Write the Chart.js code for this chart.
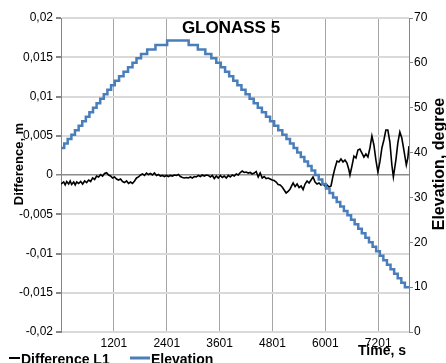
<!DOCTYPE html>
<html><head><meta charset="utf-8">
<script src="https://cdn.jsdelivr.net/npm/chart.js@4.4.1/dist/chart.umd.min.js"></script>
<style>html,body{margin:0;padding:0;background:#fff;}canvas{display:block;}</style>
</head><body>
<canvas id="c" width="446" height="363"></canvas>
<script>
const chartTitle = 'GLONASS 5';
const seriesNames = ['Difference L1', 'Elevation'];
const xAxisTitle = 'Time, s';
const yAxisTitle = 'Difference, m';
const y2AxisTitle = 'Elevation, degree';
const xTickValues = [1201, 2401, 3601, 4801, 6001, 7201];

const diffTimes = [1,62,96,130,175,209,243,289,323,357,402,447,492,538,583,628,674,719,764,809,855,900,945,990,1036,1081,1126,1172,1217,1262,1307,1353,1398,1443,1489,1534,1579,1624,1670,1715,1760,1806,1851,1896,1941,1987,2032,2077,2122,2168,2213,2258,2304,2349,2394,2439,2485,2530,2575,2621,2666,
2711,2756,2802,2847,2892,2938,2983,3028,3073,3119,3164,3209,3254,3300,3345,3390,3436,3481,3526,3571,3617,3662,3707,3753,3798,3843,3888,3934,3979,4024,4070,4115,4160,4205,4251,4296,4341,4387,4432,4477,4522,4568,4613,4658,4704,4749,4794,4839,4885,4930,4975,5021,5066,5111,5156,5202,5247,
5270,5315,5360,5405,5451,5496,5541,5586,5632,5677,5722,5768,5813,5858,5903,5949,5994,6039,6085,6130,6175,6220,6266,6311,6356,6402,6447,6492,6537,6560,6605,6650,6696,6741,6786,6832,6877,6922,6968,7013,7058,7103,7149,7194,7239,7285,7330,7375,7420,7466,7511,7545,7602,7647,7692,7737,7783,7839,7873,7900];
const diffValues = [-0.00115,-0.00089,-0.00127,-0.00083,-0.00115,-0.00076,-0.00121,-0.00089,-0.00127,-0.00089,-0.00108,-0.00083,-0.00115,-0.00076,-0.00096,-0.00064,-0.00083,-0.00038,-0.00057,-0.00013,-0.00025,0.00006,-0.00013,0.00019,0.00029,0,-0.00013,-0.00038,-0.00025,-0.00051,-0.00064,-0.00051,-0.00083,-0.00096,-0.00076,-0.00108,-0.00089,-0.00108,-0.00076,-0.00038,-0.00025,0,0.00013,-0.00006,0.00025,0.00006,0.00019,0,0.00025,-0.00006,0.00006,-0.00013,-0.00006,-0.00019,-0.00006,-0.00019,-0.00006,-0.00013,0,-0.00006,0.00006,
-0.00019,-0.00032,-0.00038,-0.00032,-0.00038,-0.00025,-0.00038,-0.00019,-0.00025,-0.00006,-0.00019,0,-0.00013,0,-0.00006,-0.00025,-0.00006,-0.00045,-0.00013,-0.00038,-0.00006,-0.00032,-0.00013,-0.00038,-0.00006,-0.00025,0,-0.00013,0.00013,0,0.00032,0.00051,0.00032,0.00038,0.00025,0.00032,0.00013,0.00025,0.00045,-0.00025,0.00025,-0.00038,-0.00019,-0.00045,-0.00038,-0.00051,-0.00064,-0.0007,-0.00089,-0.00121,-0.00127,-0.00153,-0.00191,-0.00229,-0.0021,-0.00178,-0.00127,
-0.00102,-0.00147,-0.00115,-0.00159,-0.0014,-0.00185,-0.00115,-0.00076,-0.00102,-0.00064,-0.00025,-0.00089,-0.00115,-0.00102,-0.00127,-0.00115,-0.0014,-0.00127,-0.00153,-0.0014,-0.00013,0.00089,0.00178,0.00166,0.00204,0.00166,0.00191,0.00153,0.00064,0,0.00115,0.00242,0.00217,0.00319,0.00331,0.0028,0.00229,0.00268,0.00229,0.00344,0.00497,0.00382,0.00191,0.00038,0.00166,0.00344,0.00446,0.00573,0.00573,0.0042,0.00127,-0.00025,0.0019,0.00408,0.00548,0.00471,0.00319,0.00127,0.00216,0.00369];

const elevTimes = [1,74,153,237,318,402,483,565,646,728,809,891,972,1054,1138,1221,1319,1421,1523,1624,1715,1817,1957,2145,2410,
2899,3107,3277,3413,3526,3628,3725,3818,3911,4004,4097,4190,4282,4375,4468,4561,4654,4747,4839,4932,5025,5118,5199,5281,5362,5444,5525,5607,5688,5770,5851,5933,6014,6096,6177,6259,6340,6422,6503,6585,6666,6748,6829,6911,6992,7074,7155,7237,7318,7400,7481,7563,7644,7726,7807,7900];
const elevValues = [41,42,43,44,45,46,47,48,49,50,51,52,53,54,55,56,57,58,59,60,61,62,63,64,65,
64,63,62,61,60,59,58,57,56,55,54,53,52,51,50,49,48,47,46,45,44,43,42,41,40,39,38,37,36,35,34,33,32,31,30,29,28,27,26,25,24,23,22,21,20,19,18,17,16,15,14,13,12,11,10,10];

const FONT = "'Liberation Sans', Arial, sans-serif";
Chart.defaults.font.family = FONT;
Chart.defaults.color = '#000';

const textPlugin = {
  id: 'texts',
  afterDraw(chart) {
    const ctx = chart.ctx;
    ctx.save();
    ctx.fillStyle = '#000';
    ctx.font = 'bold 17px ' + FONT;
    ctx.textAlign = 'center';
    ctx.textBaseline = 'alphabetic';
    ctx.fillText(chartTitle, 231, 33);
    ctx.save();
    ctx.translate(23, 164);
    ctx.rotate(-Math.PI / 2);
    ctx.font = 'bold 13px ' + FONT;
    ctx.fillText(yAxisTitle, 0, 0);
    ctx.restore();
    ctx.save();
    ctx.translate(444, 164);
    ctx.rotate(-Math.PI / 2);
    ctx.font = 'bold 16px ' + FONT;
    ctx.fillText(y2AxisTitle, 0, 0);
    ctx.restore();
    ctx.font = 'bold 14px ' + FONT;
    ctx.textAlign = 'right';
    ctx.fillText(xAxisTitle, 406, 355);
    ctx.textAlign = 'left';
    ctx.font = 'bold 14px ' + FONT;
    ctx.strokeStyle = '#000';
    ctx.lineWidth = 2;
    ctx.beginPath(); ctx.moveTo(9, 358); ctx.lineTo(20, 358); ctx.stroke();
    ctx.fillText(seriesNames[0], 21, 363.5);
    ctx.strokeStyle = '#4a7ebb';
    ctx.lineWidth = 3;
    ctx.beginPath(); ctx.moveTo(130, 358); ctx.lineTo(150, 358); ctx.stroke();
    ctx.fillText(seriesNames[1], 151, 363.5);
    ctx.restore();
  }
};

const fmt = v => {
  const r = Math.round(v * 1000) / 1000;
  return String(r).replace('.', ',');
};

new Chart(document.getElementById('c'), {
  type: 'line',
  data: {
    datasets: [
      {
        label: seriesNames[0],
        data: diffTimes.map((t, i) => ({ x: t, y: diffValues[i] })),
        yAxisID: 'y',
        borderColor: '#000',
        borderWidth: 1.6,
        pointRadius: 0,
        tension: 0,
        order: 1
      },
      {
        label: seriesNames[1],
        data: elevTimes.map((t, i) => ({ x: t, y: elevValues[i] })),
        yAxisID: 'y2',
        borderColor: '#4a7ebb',
        borderWidth: 2.5,
        pointRadius: 0,
        stepped: 'before',
        order: 0
      }
    ]
  },
  options: {
    responsive: false,
    animation: false,
    events: [],
    layout: { padding: { top: 18, left: 0, right: 0, bottom: 0 } },
    plugins: { legend: { display: false }, tooltip: { enabled: false }, title: { display: false } },
    scales: {
      x: {
        type: 'linear',
        min: 1,
        max: 7900,
        position: 'bottom',
        afterBuildTicks: s => { s.ticks = xTickValues.map(v => ({ value: v })); },
        afterFit: s => { s.height = 31; },
        ticks: { font: { size: 12 }, color: '#000', padding: 4, maxRotation: 0, autoSkip: false, callback: v => String(v) },
        grid: { color: '#a6a6a6', lineWidth: 1, drawTicks: false },
        border: { display: false }
      },
      y: {
        position: 'left',
        min: -0.02,
        max: 0.02,
        afterFit: s => { s.width = 61; },
        ticks: { stepSize: 0.005, font: { size: 12 }, color: '#000', padding: 3, callback: v => fmt(v) },
        grid: {
          color: c => (c.tick && Math.abs(c.tick.value) < 1e-9) ? '#8c8c8c' : '#d9d9d9',
          lineWidth: c => (c.tick && Math.abs(c.tick.value) < 1e-9) ? 1.5 : 2,
          tickColor: '#868686',
          tickLength: 5
        },
        border: { color: '#868686', width: 1 }
      },
      y2: {
        position: 'right',
        min: 0,
        max: 70,
        afterFit: s => { s.width = 37; },
        ticks: { stepSize: 10, font: { size: 12 }, color: '#000', padding: 1 },
        grid: { drawOnChartArea: false, tickColor: '#868686', tickLength: 4 },
        border: { color: '#868686', width: 1 }
      }
    }
  },
  plugins: [textPlugin]
});
</script>
</body></html>
